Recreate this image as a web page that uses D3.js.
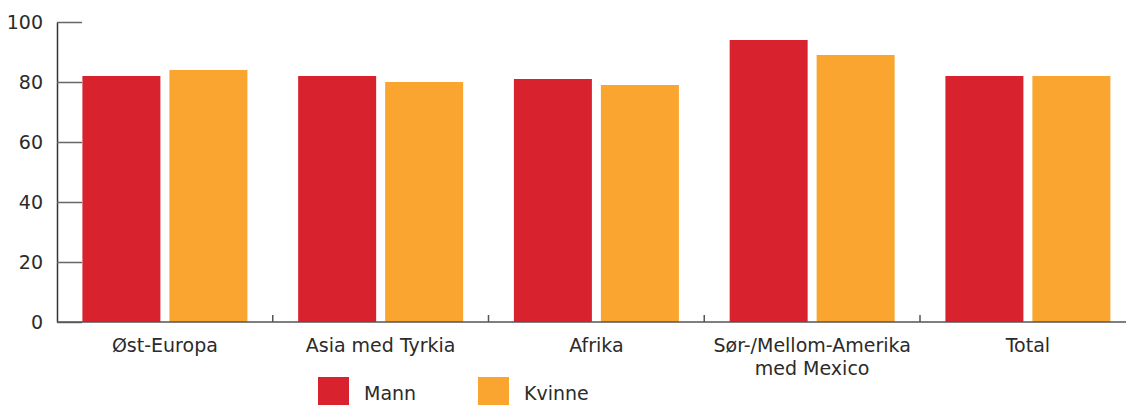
<!DOCTYPE html>
<html>
<head>
<meta charset="utf-8">
<style>
  body { margin: 0; background: #fff; }
  text { font-family: "DejaVu Sans", Verdana, sans-serif; fill: #2b2b2b; }
</style>
</head>
<body>
<div id="chart"></div>
<script src="https://d3js.org/d3.v7.min.js"></script>
<script>

  // data
  var categories = ["Øst-Europa", "Asia med Tyrkia", "Afrika", "Sør-/Mellom-Amerika\nmed Mexico", "Total"];
  var series = ["Mann", "Kvinne"];
  var mann = [82, 82, 81, 94, 82];
  var kvinne = [84, 80, 79, 89, 82];
  var yTicks = [0, 20, 40, 60, 80, 100];
  var colors = ["#d8232f", "#f9a530"];

  var W = 1126, H = 405;
  var plotLeft = 57, plotTop = 22, plotBottom = 322;
  var step = 215.75;

  var svg = d3.select("#chart")
    .append("svg")
      .attr("width", W)
      .attr("height", H);

  var x0 = d3.scaleBand()
    .domain(categories)
    .range([plotLeft, plotLeft + step * categories.length])
    .padding(0);

  var x1 = d3.scaleBand()
    .domain(series)
    .range([25.4, 190.4])
    .paddingInner(9 / 87)
    .paddingOuter(0);

  var y = d3.scaleLinear()
    .domain([0, 100])
    .range([plotBottom, plotTop]);

  var color = d3.scaleOrdinal().domain(series).range(colors);

  // Y axis, ticks pointing into the plot
  var yAxis = svg.append("g")
    .attr("transform", "translate(" + plotLeft + ",0)")
    .call(d3.axisLeft(y).tickValues(yTicks).tickSizeInner(-25).tickSizeOuter(0).tickPadding(14));
  yAxis.select(".domain").attr("stroke", "#333").attr("stroke-width", 1.5);
  yAxis.selectAll(".tick line").attr("stroke", "#666").attr("stroke-width", 1.5);
  yAxis.selectAll(".tick text")
    .style("font-family", "'DejaVu Sans', Verdana, sans-serif")
    .attr("font-size", 19)
    .attr("fill", "#2b2b2b");

  // bars
  var rows = categories.map(function(c, i) { return { cat: c, values: [mann[i], kvinne[i]] }; });

  var groups = svg.append("g")
    .selectAll("g")
    .data(rows)
    .enter()
    .append("g")
      .attr("transform", function(d) { return "translate(" + x0(d.cat) + ",0)"; });

  groups.selectAll("rect")
    .data(function(d) { return series.map(function(s, j) { return { key: s, value: d.values[j] }; }); })
    .enter()
    .append("rect")
      .attr("x", function(d) { return x1(d.key); })
      .attr("y", function(d) { return y(d.value); })
      .attr("width", x1.bandwidth())
      .attr("height", function(d) { return y(0) - y(d.value); })
      .attr("fill", function(d) { return color(d.key); });

  // X axis line and small upward ticks between groups
  svg.append("line")
    .attr("x1", plotLeft).attr("x2", x0.range()[1])
    .attr("y1", y(0)).attr("y2", y(0))
    .attr("stroke", "#555").attr("stroke-width", 1.5);

  svg.append("g")
    .selectAll("line")
    .data(categories.slice(1))
    .enter()
    .append("line")
      .attr("x1", function(d) { return x0(d); })
      .attr("x2", function(d) { return x0(d); })
      .attr("y1", y(0))
      .attr("y2", y(0) - 7)
      .attr("stroke", "#555")
      .attr("stroke-width", 1.5);

  // category labels, may span two lines
  var labels = svg.append("g")
    .selectAll("text")
    .data(categories)
    .enter()
    .append("text")
      .attr("text-anchor", "middle")
      .attr("font-size", 19)
      .attr("transform", function(d) { return "translate(" + (x0(d) + x0.bandwidth() / 2) + ",352)"; });

  labels.selectAll("tspan")
    .data(function(d) { return d.split("\n"); })
    .enter()
    .append("tspan")
      .attr("x", 0)
      .attr("dy", function(d, i) { return i === 0 ? 0 : 23; })
      .text(function(d) { return d; });

  // legend
  var legendX = [318, 478];
  var legend = svg.append("g")
    .selectAll("g")
    .data(series)
    .enter()
    .append("g")
      .attr("transform", function(d, i) { return "translate(" + legendX[i] + ",377)"; });

  legend.append("rect")
    .attr("width", 31)
    .attr("height", 28)
    .attr("fill", function(d) { return color(d); });

  legend.append("text")
    .attr("x", 46)
    .attr("y", 23)
    .attr("font-size", 19)
    .text(function(d) { return d; });

</script>
</body>
</html>
